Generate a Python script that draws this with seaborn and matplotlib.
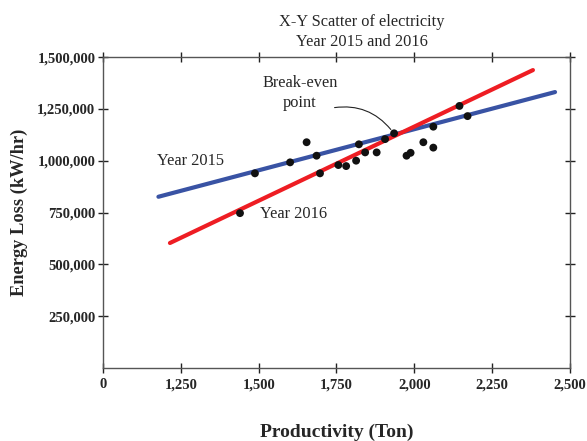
import matplotlib
matplotlib.use("Agg")
import matplotlib.pyplot as plt
import seaborn as sns
import pandas as pd

# Scatter observations (productivity in Ton, energy loss in kW/hr)
productivity = [1440, 1488, 1601, 1654, 1686, 1697, 1756, 1781, 1813, 1822,
                1842, 1879, 1906, 1935, 1975, 1988, 2029, 2061, 2061, 2145, 2171]
energy_loss = [747000, 939000, 992000, 1089000, 1024000, 939000, 979000, 974000,
               1000000, 1079000, 1040000, 1040000, 1104000, 1132000, 1024000,
               1038000, 1089000, 1164000, 1063000, 1264000, 1215000]

# Fitted lines
line_2015_x = [1178, 2452]
line_2015_y = [826000, 1331000]
line_2016_x = [1215, 2381]
line_2016_y = [603000, 1437000]

x_ticks = [1000, 1250, 1500, 1750, 2000, 2250, 2500]
x_tick_labels = ["0", "1,250", "1,500", "1,750", "2,000", "2,250", "2,500"]
y_ticks = [250000, 500000, 750000, 1000000, 1250000, 1500000]
y_tick_labels = ["250,000", "500,000", "750,000", "1,000,000", "1,250,000", "1,500,000"]

sns.set_theme(style="white")
plt.rcParams['font.family'] = ['Liberation Serif', 'DejaVu Serif']

fig = plt.figure(figsize=(5.87, 4.41), dpi=100)
ax = fig.add_axes([0.1755, 0.1655, 0.7955, 0.7052])

df = pd.DataFrame({"x": productivity, "y": energy_loss})
sns.lineplot(x=line_2015_x, y=line_2015_y, ax=ax, color="#3953a4", linewidth=3, zorder=2)
sns.lineplot(x=line_2016_x, y=line_2016_y, ax=ax, color="#ee1d23", linewidth=3, zorder=3)
sns.scatterplot(data=df, x="x", y="y", ax=ax, color="#111111", s=32,
                edgecolor="none", zorder=4)

ax.set_xlim(1000, 2500)
ax.set_ylim(0, 1500000)
ax.set_xticks(x_ticks)
ax.set_xticklabels(x_tick_labels, fontweight="bold", fontsize=10.5)
ax.set_yticks(y_ticks)
ax.set_yticklabels(y_tick_labels, fontweight="bold", fontsize=10.5)

for side in ["left", "right", "top", "bottom"]:
    ax.spines[side].set_color("#555555")
    ax.spines[side].set_linewidth(1.0)

ax.tick_params(axis="y", which="both", left=True, right=True, direction="inout",
               length=7, width=1, color="#222222", pad=2)
ax.tick_params(axis="x", which="both", bottom=True, top=True, direction="inout",
               length=7, width=1, color="#222222", pad=4)

ax.set_xlabel("Productivity (Ton)", fontweight="bold", fontsize=14, labelpad=23)
ax.set_ylabel("Energy Loss (kW/hr)", fontweight="bold", fontsize=13.2, labelpad=7)
ax.set_title("X-Y Scatter of electricity\nYear 2015 and 2016", fontsize=11.8,
             linespacing=1.3, pad=8, x=0.555)

ax.text(1175, 1000000, "Year 2015", fontsize=11.8, ha="left", va="center")
ax.text(1505, 745000, "Year 2016", fontsize=11.8, ha="left", va="center")
ax.text(1633, 1325000, "Break-even\npoint", fontsize=11.8, ha="center", va="center",
        linespacing=1.35)
ax.annotate("", xy=(1930, 1140000), xytext=(1735, 1254000),
            arrowprops=dict(arrowstyle="-", color="#222222", linewidth=0.8,
                            connectionstyle="arc3,rad=-0.3"))

fig.savefig("out.png", dpi=100)
